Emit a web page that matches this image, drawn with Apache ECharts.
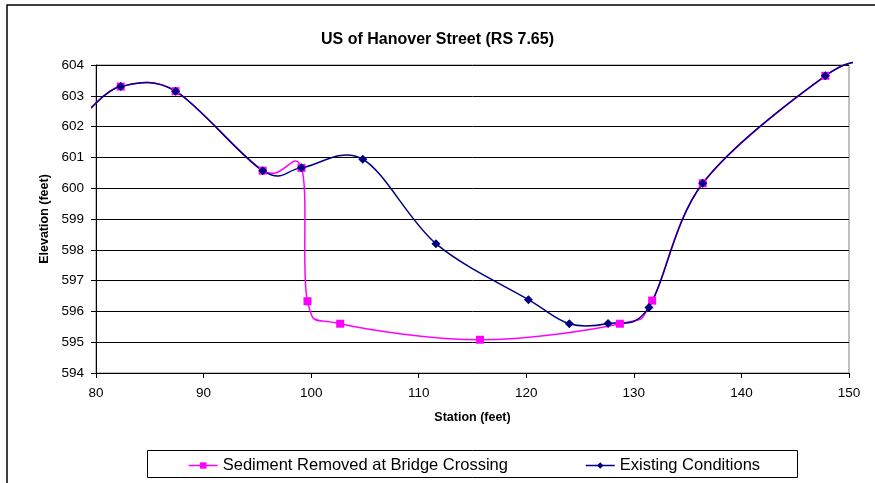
<!DOCTYPE html>
<html lang="en">
<head>
    <meta charset="UTF-8">
    <title>US of Hanover Street (RS 7.65)</title>
    <script src="https://cdn.jsdelivr.net/npm/echarts@6/dist/echarts.min.js"></script>
</head>
<body style="margin:0;background:#fff;">
<div id="main" style="width: 875px;height:483px;"></div>
<script>
    // station / elevation (end points sit just outside the axes)
    var sedimentStation = [79.5, 82.3, 87.4, 95.5, 99.1, 99.66, 102.7, 115.7, 128.7, 131.7, 136.4, 147.8, 152];
    var sedimentElev = [602.6, 603.3, 603.15, 600.57, 600.66, 596.33, 595.6, 595.08, 595.6, 596.35, 600.16, 603.65, 604.1];

    var existingStation = [79.5, 82.3, 87.4, 95.5, 99.1, 104.8, 111.6, 120.2, 124.0, 127.6, 131.4, 136.4, 147.8, 152];
    var existingElev = [602.6, 603.3, 603.15, 600.57, 600.66, 600.94, 598.2, 596.38, 595.6, 595.61, 596.13, 600.16, 603.65, 604.1];

    var xTicks = [80, 90, 100, 110, 120, 130, 140, 150];
    var yTicks = [594, 595, 596, 597, 598, 599, 600, 601, 602, 603, 604];

    var pink = '#FF00FF';
    var navy = '#000080';
    var font = 'Liberation Sans, Arial, sans-serif';

    function pairs(xs, ys) {
        var out = [];
        for (var i = 0; i < xs.length; i++) out.push([xs[i], ys[i]]);
        return out;
    }

    // Excel style smoothed line: cardinal spline (1/6 tension) in pixel space
    function smoothCurve(xs, ys, color) {
        return function (params, api) {
            if (params.dataIndex !== 0) return null;
            var p = [];
            for (var i = 0; i < xs.length; i++) p.push(api.coord([xs[i], ys[i]]));
            var kids = [];
            for (var j = 0; j < p.length - 1; j++) {
                var a = p[j - 1] || p[j], b = p[j], c = p[j + 1], d = p[j + 2] || p[j + 1];
                kids.push({
                    type: 'bezierCurve',
                    shape: {
                        x1: b[0], y1: b[1], x2: c[0], y2: c[1],
                        cpx1: b[0] + (c[0] - a[0]) / 6, cpy1: b[1] + (c[1] - a[1]) / 6,
                        cpx2: c[0] - (d[0] - b[0]) / 6, cpy2: c[1] - (d[1] - b[1]) / 6
                    },
                    style: { fill: null, stroke: color, lineWidth: 1.5 }
                });
            }
            var cs = params.coordSys;
            return {
                type: 'group',
                children: kids,
                clipPath: {
                    type: 'rect',
                    shape: { x: cs.x - 5, y: cs.y - 4, width: cs.width + 9, height: cs.height + 8 }
                }
            };
        };
    }

    var myChart = echarts.init(document.getElementById('main'));
    var option = {
        animation: false,
        textStyle: { fontFamily: font },
        title: {
            text: 'US of Hanover Street (RS 7.65)',
            left: 'center',
            top: 27,
            textStyle: { fontSize: 16, fontWeight: 'bold', color: '#000', fontFamily: font }
        },
        graphic: [
            {
                type: 'rect',
                shape: { x: 7, y: 5, width: 900, height: 520 },
                style: { fill: 'none', stroke: '#000', lineWidth: 1.5 },
                silent: true
            },
            {
                type: 'rect',
                shape: { x: 147.5, y: 450.5, width: 650, height: 27 },
                style: { fill: '#fff', stroke: '#000', lineWidth: 1 },
                silent: true,
                z: -1
            }
        ],
        legend: [
            {
                data: ['Sediment Removed at Bridge Crossing'],
                left: 188, top: 457, padding: 0,
                itemWidth: 29, itemHeight: 8,
                lineStyle: { color: pink, width: 1.5, opacity: 1 },
                textStyle: { fontSize: 16.5, color: '#000', fontFamily: font }
            },
            {
                data: ['Existing Conditions'],
                left: 585, top: 457, padding: 0,
                itemWidth: 29, itemHeight: 8,
                lineStyle: { color: navy, width: 1.5, opacity: 1 },
                textStyle: { fontSize: 16.5, color: '#000', fontFamily: font }
            }
        ],
        grid: {
            left: 96, right: 26, top: 65, bottom: 110,
            show: true, borderColor: '#808080', borderWidth: 1
        },
        xAxis: {
            type: 'value',
            min: xTicks[0], max: xTicks[xTicks.length - 1], interval: 10,
            name: 'Station (feet)',
            nameLocation: 'middle', nameGap: 38,
            nameTextStyle: { fontSize: 12.5, fontWeight: 'bold', color: '#000' },
            axisLine: { lineStyle: { color: '#000', width: 1 } },
            axisTick: { show: true, inside: false, length: 5, lineStyle: { color: '#000' } },
            axisLabel: { margin: 13, fontSize: 13.5, color: '#000' },
            splitLine: { show: false }
        },
        yAxis: {
            type: 'value',
            min: yTicks[0], max: yTicks[yTicks.length - 1], interval: 1,
            name: 'Elevation (feet)',
            nameLocation: 'middle', nameGap: 41, nameRotate: 90,
            nameTextStyle: { fontSize: 12.5, fontWeight: 'bold', color: '#000' },
            axisLine: { show: true, lineStyle: { color: '#000', width: 1 } },
            axisTick: { show: true, inside: false, length: 5, lineStyle: { color: '#000' } },
            axisLabel: { margin: 12, fontSize: 13.5, color: '#000' },
            splitLine: { show: true, lineStyle: { color: '#000', width: 1 } }
        },
        series: [
            {
                name: 'sediment curve',
                type: 'custom',
                data: [[sedimentStation[1], sedimentElev[1]]],
                encode: { x: 0, y: 1 },
                renderItem: smoothCurve(sedimentStation, sedimentElev, pink),
                silent: true,
                z: 2
            },
            {
                name: 'existing curve',
                type: 'custom',
                data: [[existingStation[1], existingElev[1]]],
                encode: { x: 0, y: 1 },
                renderItem: smoothCurve(existingStation, existingElev, navy),
                silent: true,
                z: 3
            },
            {
                name: 'Sediment Removed at Bridge Crossing',
                type: 'line',
                data: pairs(sedimentStation, sedimentElev),
                clip: true,
                symbol: 'rect',
                symbolSize: 8,
                showAllSymbol: true,
                itemStyle: { color: pink },
                lineStyle: { color: pink, width: 1.5, opacity: 0 },
                z: 4
            },
            {
                name: 'Existing Conditions',
                type: 'line',
                data: pairs(existingStation, existingElev),
                clip: true,
                symbol: 'diamond',
                symbolSize: 9,
                showAllSymbol: true,
                itemStyle: { color: navy },
                lineStyle: { color: navy, width: 1.5, opacity: 0 },
                z: 5
            }
        ]
    };
    myChart.setOption(option);
</script>
</body>
</html>
